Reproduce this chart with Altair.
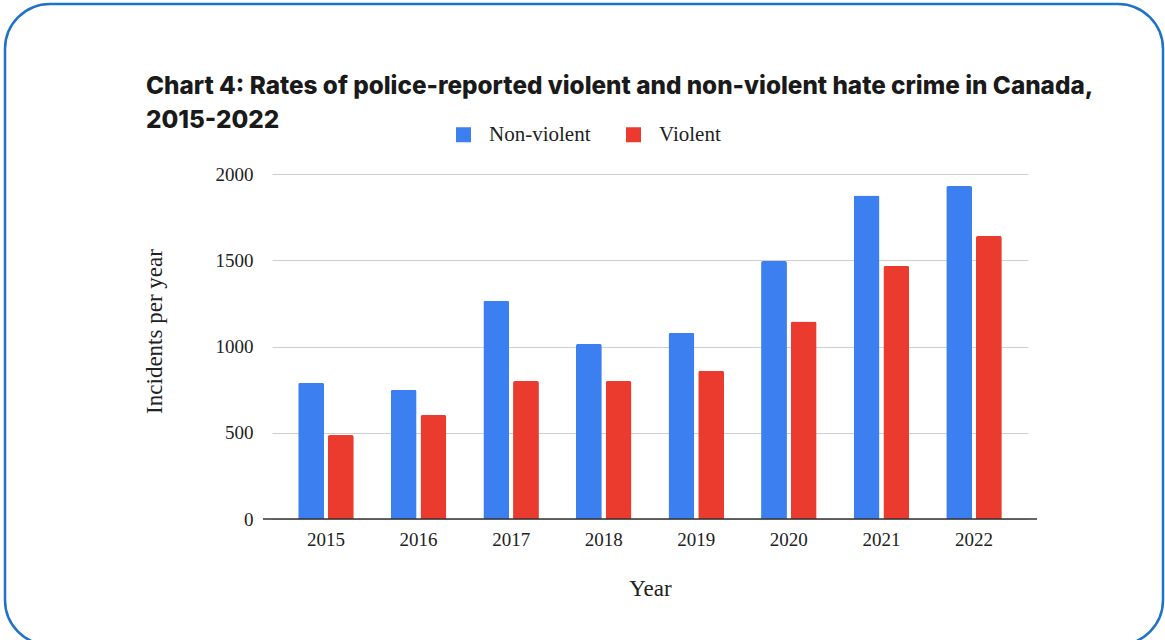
import altair as alt
import pandas as pd

years = ["2015", "2016", "2017", "2018", "2019", "2020", "2021", "2022"]
non_violent = [790, 750, 1265, 1015, 1080, 1495, 1875, 1930]
violent = [487, 603, 800, 800, 860, 1145, 1467, 1641]
series = ["Non-violent", "Violent"]
colors = ["#3b7ff0", "#ea3b2e"]
title_lines = ["Chart 4: Rates of police-reported violent and non-violent hate crime in Canada,",
               "2015-2022"]

rows = []
for i, y in enumerate(years):
    rows.append({"Year": y, "Series": series[0], "Value": non_violent[i]})
    rows.append({"Year": y, "Series": series[1], "Value": violent[i]})
df = pd.DataFrame(rows)

W, H = 756, 345
PL, PT = 272, 174
SERIF = "Liberation Serif"

bars = alt.Chart(df).mark_bar(cornerRadiusTopLeft=2, cornerRadiusTopRight=2).encode(
    x=alt.X("Year:N", sort=years,
            scale=alt.Scale(paddingInner=0.4, paddingOuter=0.283),
            axis=alt.Axis(title="Year", labelAngle=0, domain=False, ticks=False, grid=False,
                          labelFont=SERIF, labelFontSize=19, labelColor="#222",
                          labelPadding=11, titleFont=SERIF, titleFontSize=23,
                          titleFontWeight="normal", titleColor="#222", titlePadding=28)),
    xOffset=alt.XOffset("Series:N", sort=series,
                        scale=alt.Scale(paddingInner=0.13, paddingOuter=0)),
    y=alt.Y("Value:Q", scale=alt.Scale(domain=[0, 2000], nice=False),
            axis=alt.Axis(title="Incidents per year", values=[0, 500, 1000, 1500, 2000],
                          format="d", domain=False, ticks=False, labelFont=SERIF,
                          labelFontSize=19, labelColor="#222", labelPadding=19,
                          gridColor="#cfcfcf", gridWidth=1, titleFont=SERIF,
                          titleFontSize=23, titleFontWeight="normal", titleColor="#222",
                          titleX=-106, titleY=157)),
    color=alt.Color("Series:N", sort=series,
                    scale=alt.Scale(domain=series, range=colors),
                    legend=alt.Legend(title=None, orient="none", legendX=181, legendY=-50,
                                      direction="horizontal", symbolType="square",
                                      symbolSize=225, symbolStrokeWidth=0,
                                      labelFont=SERIF, labelFontSize=21, labelColor="#222",
                                      labelOffset=15, columnPadding=32)),
)

zero = alt.Chart(pd.DataFrame({"z": [0]})).mark_rule(color="#333", strokeWidth=1.5).encode(
    y=alt.Y("z:Q"), x=alt.value(-9), x2=alt.value(W + 9)
)

border = alt.Chart(pd.DataFrame({"a": [0]})).mark_rect(
    fill="transparent", stroke="#1f73c6", strokeWidth=2.5, cornerRadius=45
).encode(
    x=alt.value(5 - PL), x2=alt.value(1163 - PL), y=alt.value(4 - PT), y2=alt.value(645 - PT)
)

title_style = dict(align="left", baseline="alphabetic", font="Inter", fontSize=24.3,
                   fontWeight=800, color="#1a1a1a")
t1 = alt.Chart(pd.DataFrame({"a": [0]})).mark_text(**title_style).encode(
    x=alt.value(146 - PL), y=alt.value(94 - PT), text=alt.value(title_lines[0]))
t2 = alt.Chart(pd.DataFrame({"a": [0]})).mark_text(**title_style).encode(
    x=alt.value(146 - PL), y=alt.value(128 - PT), text=alt.value(title_lines[1]))

chart = alt.layer(border, bars, zero, t1, t2).properties(
    width=W, height=H,
    padding={"left": PL, "top": PT, "right": 1165 - PL - W, "bottom": 640 - PT - H},
    autosize=alt.AutoSizeParams(type="none"),
    background="white",
).configure_view(stroke=None, strokeWidth=0)

chart.save("out.html", embed_options={"renderer": "svg", "actions": False})
